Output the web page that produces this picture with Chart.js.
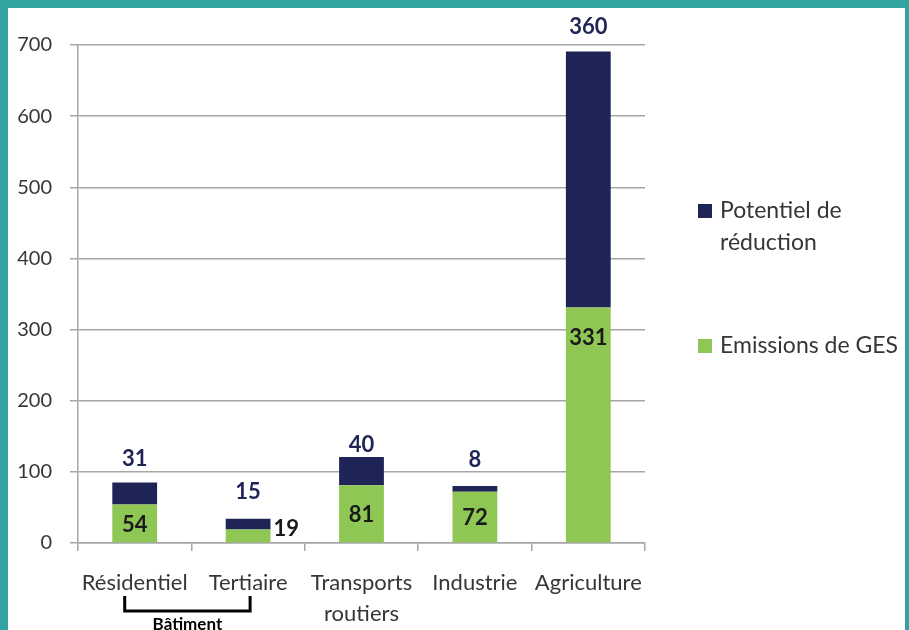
<!DOCTYPE html>
<html>
<head>
<meta charset="utf-8">
<script src="https://cdn.jsdelivr.net/npm/chart.js@4"></script>
<style>
  html, body { margin: 0; padding: 0; background: #fff; }
  #wrap { width: 909px; height: 630px; position: relative; }
</style>
</head>
<body>
<div id="wrap"><canvas id="chart" width="909" height="630"></canvas></div>
<script>
// données
const categories = ['Résidentiel', 'Tertiaire', ['Transports', 'routiers'], 'Industrie', 'Agriculture'];
const emissions = [54, 19, 81, 72, 331];
const potentiel = [31, 15, 40, 8, 360];
const yMin = 0, yMax = 700, yStep = 100;
const groupLabel = 'Bâtiment';

// styles
const NAVY = '#1f2456';
const GREEN = '#8fc755';
const TEAL = '#31a3a0';
const TEXT = '#363636';
const FONT = 'Lato, "Noto Sans", sans-serif';
// position des étiquettes vertes : centre, à droite ou en haut de la barre
const greenLabelMode = ['center', 'right', 'center', 'center', 'top'];
// écart entre le haut de la pile et l'étiquette bleue
const navyLabelGap = [24, 27, 12, 26, 24];

const framePlugin = {
    id: 'frame',
    beforeDraw(chart) {
        const ctx = chart.ctx;
        ctx.save();
        ctx.fillStyle = TEAL;
        ctx.fillRect(0, 0, chart.width, chart.height);
        ctx.fillStyle = '#fff';
        ctx.fillRect(8, 8, chart.width - 12, chart.height - 8);
        ctx.restore();
    }
};

const valueLabels = {
    id: 'valueLabels',
    afterDatasetsDraw(chart) {
        const ctx = chart.ctx;
        ctx.save();
        ctx.font = 'bold 22px ' + FONT;
        // émissions (vert)
        chart.getDatasetMeta(0).data.forEach((el, i) => {
            const v = emissions[i];
            const mode = greenLabelMode[i];
            ctx.fillStyle = '#1a1a1a';
            ctx.textBaseline = 'middle';
            if (mode === 'right') {
                ctx.textAlign = 'left';
                ctx.fillText(v, el.x + el.width / 2 + 3, el.base - 13);
            } else if (mode === 'top') {
                ctx.textAlign = 'center';
                ctx.fillText(v, el.x, el.y + 30);
            } else {
                ctx.textAlign = 'center';
                ctx.fillText(v, el.x, (el.y + el.base) / 2 + 1);
            }
        });
        // potentiel (bleu)
        chart.getDatasetMeta(1).data.forEach((el, i) => {
            ctx.fillStyle = NAVY;
            ctx.textAlign = 'center';
            ctx.textBaseline = 'middle';
            ctx.fillText(potentiel[i], el.x, el.y - navyLabelGap[i]);
        });
        ctx.restore();
    }
};

const bracketPlugin = {
    id: 'bracket',
    afterDraw(chart) {
        const ctx = chart.ctx;
        const x = chart.scales.x;
        const b = chart.chartArea.bottom;
        const left = x.getPixelForValue(0) - 10;
        const right = x.getPixelForValue(1) + 2;
        ctx.save();
        ctx.strokeStyle = '#000';
        ctx.lineWidth = 3;
        ctx.beginPath();
        ctx.moveTo(left, b + 53);
        ctx.lineTo(left, b + 68);
        ctx.lineTo(right, b + 68);
        ctx.lineTo(right, b + 53);
        ctx.stroke();
        ctx.fillStyle = '#000';
        ctx.font = 'bold 17px ' + FONT;
        ctx.textAlign = 'center';
        ctx.textBaseline = 'top';
        ctx.fillText(groupLabel, (left + right) / 2, b + 73);
        ctx.restore();
    }
};

const sideLegend = {
    id: 'sideLegend',
    afterDraw(chart) {
        const ctx = chart.ctx;
        const x0 = chart.chartArea.right + 53;
        const items = [
            { color: NAVY, lines: ['Potentiel de', 'réduction'], y: 211 },
            { color: GREEN, lines: ['Emissions de GES'], y: 346 }
        ];
        ctx.save();
        ctx.font = '23px ' + FONT;
        ctx.textAlign = 'left';
        ctx.textBaseline = 'middle';
        items.forEach(it => {
            ctx.fillStyle = it.color;
            ctx.fillRect(x0, it.y - 7, 14, 14);
            ctx.fillStyle = TEXT;
            it.lines.forEach((t, k) => ctx.fillText(t, x0 + 22, it.y + k * 32));
        });
        ctx.restore();
    }
};

const ctx = document.getElementById('chart').getContext('2d');
new Chart(ctx, {
    type: 'bar',
    data: {
        labels: categories,
        datasets: [
            { label: 'Emissions de GES', data: emissions, backgroundColor: GREEN, stack: 's' },
            { label: 'Potentiel de réduction', data: potentiel, backgroundColor: NAVY, stack: 's' }
        ]
    },
    options: {
        responsive: false,
        animation: false,
        events: [],
        layout: { padding: { left: 8, top: 45, right: 264, bottom: 0 } },
        datasets: { bar: { categoryPercentage: 1, barPercentage: 0.395 } },
        plugins: {
            legend: { display: false },
            tooltip: { enabled: false }
        },
        scales: {
            x: {
                stacked: true,
                ticks: { color: TEXT, font: { family: FONT, size: 22, lineHeight: 1.4 }, padding: 17, maxRotation: 0, autoSkip: false },
                grid: { drawOnChartArea: false, drawTicks: true, tickLength: 8, color: '#a6a6a6', lineWidth: 1.5, offset: true },
                border: { color: '#a6a6a6', width: 1.5 },
                afterFit(s) { s.height = 87; }
            },
            y: {
                stacked: true,
                min: yMin,
                max: yMax,
                ticks: { stepSize: yStep, color: TEXT, font: { family: FONT, size: 20 }, padding: 18 },
                grid: { color: '#a6a6a6', lineWidth: 1.5, tickLength: 8 },
                border: { color: '#a6a6a6', width: 1.5 },
                afterFit(s) { s.width = 70; }
            }
        }
    },
    plugins: [framePlugin, valueLabels, bracketPlugin, sideLegend]
});
</script>
</body>
</html>
